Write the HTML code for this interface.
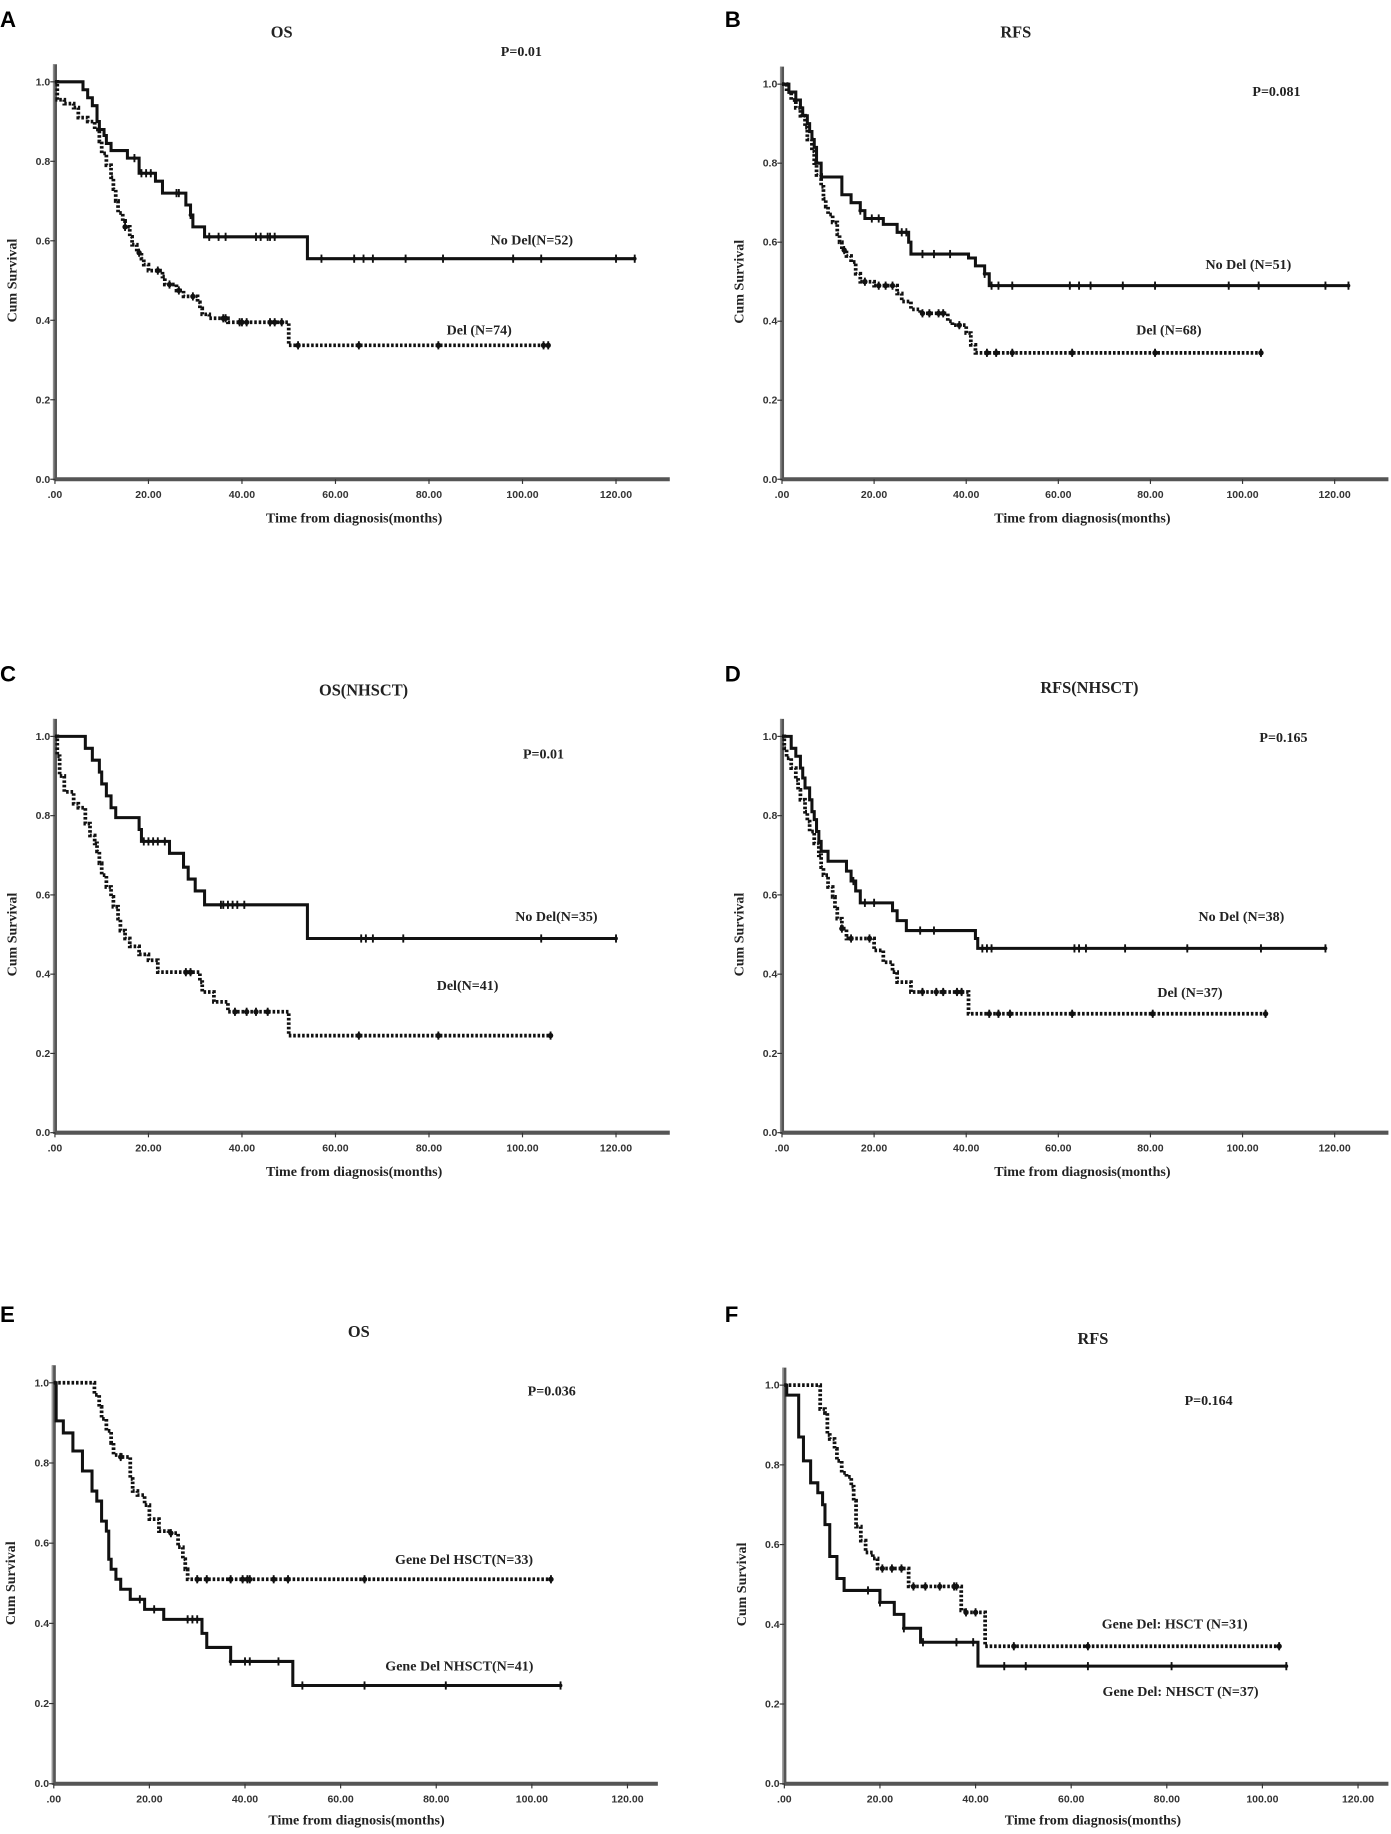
<!DOCTYPE html>
<html><head><meta charset="utf-8">
<style>
html,body{margin:0;padding:0;background:#fff;}
svg{display:block;}
.tick{font:bold 9px "Liberation Sans",sans-serif;fill:#333;}
.lab{font:bold 12px "Liberation Serif",serif;fill:#222;}
.ttl{font:bold 14px "Liberation Serif",serif;fill:#222;}
.let{font:bold 19px "Liberation Sans",sans-serif;fill:#000;}
</style></head>
<body>
<svg id="fig" width="1391" height="1834" viewBox="0 0 1190 1569" xmlns="http://www.w3.org/2000/svg"></svg>
<script>
// ---- data (time in months, cumulative survival) ----
const xTicks = [0,20,40,60,80,100,120];
const xTickLabels = [".00","20.00","40.00","60.00","80.00","100.00","120.00"];
const yTicks = [0,0.2,0.4,0.6,0.8,1.0];
const yTickLabels = ["0.0","0.2","0.4","0.6","0.8","1.0"];

// Panel A (OS)
const aNoDelT = [0,6,7,8,9,9.5,10.5,11,12,15.5,17,18,21.5,23,28,29,29.5,32,54];
const aNoDelS = [1,0.98,0.96,0.94,0.9,0.88,0.865,0.845,0.827,0.808,0.808,0.77,0.75,0.72,0.69,0.665,0.635,0.61,0.555];
const aNoDelCens = [17,18.5,19.5,20.5,26,26.5,29,33,35,36.5,43,44,45.5,46,47,57,64,66,68,75,83,98,104,120,124];
const aNoDelEnd = 124;
const aDelT = [0,0.5,2,4,5,7,8.5,9.5,10,11,12,12.5,13,13.5,14.5,15,16,16.5,17.5,18.5,19,20,23,23.5,26,27.5,30.5,31,31.5,33,37,50];
const aDelS = [1,0.955,0.945,0.935,0.91,0.9,0.88,0.85,0.82,0.79,0.76,0.73,0.7,0.67,0.65,0.635,0.61,0.59,0.57,0.555,0.54,0.525,0.51,0.49,0.475,0.46,0.445,0.43,0.415,0.405,0.395,0.337];
const aDelCens = [15,18,22,24.5,26.5,29.5,36,36.5,39.5,40,41,46,47,48.5,52,65,82,104.5,105.5];
const aDelEnd = 106;

// Panel B (RFS)
const bNoDelT = [0,1.5,3,4,4.5,5.5,6,6.5,7,7.5,8.5,13,15,17,18,22,25,27.5,28,40.5,42,44,45];
const bNoDelS = [1,0.98,0.96,0.94,0.92,0.9,0.88,0.86,0.84,0.8,0.765,0.72,0.7,0.68,0.66,0.645,0.625,0.6,0.57,0.56,0.54,0.52,0.49];
const bNoDelCens = [17,19.5,21,26,27,30.5,33,36.5,44,45.5,47,50,62.5,64.5,67,74,81,97,103.5,118,123];
const bNoDelEnd = 123;
const bDelT = [0,1,2,3,4,5,5.5,6.5,7,7.5,8.5,9,9.5,10,11,12,12.5,13,14,15,16,17,20,25,26,28,30,36,37,40,41,42];
const bDelS = [1,0.98,0.96,0.94,0.92,0.89,0.86,0.83,0.8,0.77,0.74,0.71,0.69,0.67,0.65,0.62,0.6,0.58,0.565,0.55,0.52,0.5,0.49,0.47,0.45,0.43,0.42,0.4,0.39,0.37,0.34,0.32];
const bDelCens = [13.5,18,21,22.5,24,30.5,32,34,35,38.5,44.5,46.5,50,63,81,104];
const bDelEnd = 104;

// Panel C (OS NHSCT)
const cNoDelT = [0,6.5,8,9.5,10,11,12,13,18,18.5,24.5,27.5,28.5,30,32,54];
const cNoDelS = [1,0.97,0.94,0.91,0.88,0.85,0.82,0.795,0.765,0.735,0.705,0.67,0.64,0.61,0.575,0.49];
const cNoDelCens = [19,20,21,22,23.5,35.5,36,37,38,39,40.5,65.5,66.5,68,74.5,104,120];
const cNoDelEnd = 120;
const cDelT = [0,0.5,1,2,4,5,6.5,7.5,8.5,9,9.5,10,11,12,12.5,13.5,14,15,16,18,20,22,31,31.5,34,37,50];
const cDelS = [1,0.95,0.9,0.86,0.83,0.82,0.78,0.75,0.73,0.71,0.68,0.65,0.62,0.595,0.57,0.54,0.51,0.49,0.47,0.45,0.435,0.405,0.38,0.355,0.33,0.305,0.245];
const cDelCens = [28,29,38.5,41,43,45.5,65,82,106];
const cDelEnd = 106;

// Panel D (RFS NHSCT)
const dNoDelT = [0,2,3,4,4.5,5,6,6.5,7,7.5,8,8.5,10,14,15,16,17,24,25,27,42,42.5];
const dNoDelS = [1,0.97,0.95,0.92,0.895,0.87,0.84,0.81,0.79,0.76,0.735,0.71,0.685,0.66,0.635,0.61,0.58,0.56,0.535,0.51,0.49,0.465];
const dNoDelCens = [15.5,18,20,30,33,43.5,44.5,45.5,63.5,64.5,66,74.5,88,104,118];
const dNoDelEnd = 118;
const dDelT = [0,0.5,1,2,3,3.5,4,5,5.5,6,7,8,8.5,9,10,11,11.5,12,13,14,20,22,24,25,28,40.5];
const dDelS = [1,0.97,0.945,0.92,0.89,0.865,0.84,0.81,0.785,0.76,0.73,0.7,0.67,0.65,0.62,0.595,0.565,0.54,0.515,0.49,0.46,0.43,0.405,0.38,0.355,0.3];
const dDelCens = [13,15,19,30.5,33.5,35,38,39,45,47,49.5,63,80.5,105];
const dDelEnd = 105;

// Panel E (OS, HSCT vs NHSCT)
const eHsctT = [0,8.5,9.5,10,11,12,12.5,14,16,16.5,17.5,19,20,22,24,26,27,27.5,28];
const eHsctS = [1,0.97,0.94,0.91,0.88,0.85,0.82,0.815,0.76,0.73,0.72,0.695,0.66,0.63,0.625,0.59,0.56,0.535,0.51];
const eHsctCens = [14,24.5,30,32,37,39.5,40.5,41,46,49,65,104];
const eHsctEnd = 104;
const eNhsctT = [0,0.5,2,4,6,8,9,10,11,11.5,12,13,14,16,19,23,31,32,37,50];
const eNhsctS = [1,0.905,0.875,0.83,0.78,0.73,0.705,0.655,0.63,0.56,0.535,0.51,0.485,0.46,0.435,0.41,0.375,0.34,0.305,0.245];
const eNhsctCens = [18,21,28,29,30,37,40,41,47,52,65,82,106];
const eNhsctEnd = 106;

// Panel F (RFS, HSCT vs NHSCT)
const fHsctT = [0,7.5,8.5,9,9.5,10.5,11,12,13,14,14.5,15,16,17,18.5,19.5,26,37,38,42];
const fHsctS = [1,0.94,0.93,0.875,0.865,0.84,0.81,0.78,0.77,0.745,0.71,0.645,0.61,0.58,0.565,0.54,0.495,0.435,0.43,0.345];
const fHsctCens = [20.5,22.5,24.5,27,29.5,32.5,35.5,36,38,40,48,63.5,103.5];
const fHsctEnd = 103.5;
const fNhsctT = [0,0.5,3,4,5.5,7,8,8.5,9.5,11,12.5,20,23,25,28.5,40.5];
const fNhsctS = [1,0.975,0.87,0.81,0.755,0.73,0.7,0.65,0.57,0.515,0.485,0.455,0.425,0.39,0.355,0.295];
const fNhsctCens = [17.5,20,25,29,36,39.5,46,50.5,63.5,81,105];
const fNhsctEnd = 105;

const NS = "http://www.w3.org/2000/svg";
const fig = document.getElementById('fig');
function mk(tag, attrs, parent){
  const e = document.createElementNS(NS, tag);
  for (const k in attrs) e.setAttribute(k, attrs[k]);
  (parent||fig).appendChild(e);
  return e;
}
function txt(s, x, y, cls, parent, anchor){
  const t = mk('text', {x:x, y:y, class:cls, 'text-anchor':anchor||'middle'}, parent);
  t.textContent = s;
  return t;
}
function survAt(T, S, t){
  let s = S[0];
  for (let i=0;i<T.length;i++){ if (T[i] <= t) s = S[i]; }
  return s;
}

function drawPanel(p){
  const g = mk('g', {});
  
  
  const xs = t => p.ox + t*p.k;
  const ys = s => p.y0 - s*(p.y0 - p.y1);
  const L = txt(p.letter, p.lx, p.ly, 'let', g, 'start');
  
  
  const T = txt(p.title, p.tx, p.ty, 'ttl', g);
  
  
  const ax = mk('g', {}, g);
  
  
  mk('line', {x1:p.ox, y1:p.y1-15, x2:p.ox, y2:p.y0+1, stroke:'#555', 'stroke-width':3.5}, ax);
  mk('line', {x1:p.ox, y1:p.y0, x2:xs(120)+p.ext, y2:p.y0, stroke:'#555', 'stroke-width':3.5}, ax);
  mk('line', {x1:p.ox-1, y1:p.y1-15, x2:p.ox-1, y2:p.y0, stroke:'#999', 'stroke-width':1}, ax);
  for (let i=0;i<yTicks.length;i++){
    const y = ys(yTicks[i]);
    mk('line', {x1:p.ox-4, y1:y, x2:p.ox, y2:y, stroke:'#333', 'stroke-width':1}, ax);
    const tl = txt(yTickLabels[i], p.ox-4, y+3, 'tick', ax, 'end');
    
    
  }
  for (let i=0;i<xTicks.length;i++){
    const x = xs(xTicks[i]);
    mk('line', {x1:x, y1:p.y0, x2:x, y2:p.y0+4, stroke:'#333', 'stroke-width':1}, ax);
    const tl = txt(xTickLabels[i], x, p.y0+16, 'tick', ax);
    
    
  }
  const xl = txt('Time from diagnosis(months)', p.xlx, p.y0+p.xly, 'lab', g);
  
  
  const yl = txt('Cum Survival', 0, 0, 'lab', g);
  yl.setAttribute('transform', 'translate('+(p.ox-33)+','+((p.y0+p.y1)/2)+') rotate(-90)');
  
  
  const pv = txt(p.pval, p.px, p.py, 'lab', g);
  
  
  p.series.forEach(sr => {
    let d = 'M'+xs(sr.T[0])+','+ys(sr.S[0]);
    for (let i=1;i<sr.T.length;i++){
      d += ' H'+xs(sr.T[i])+' V'+ys(sr.S[i]);
    }
    d += ' H'+xs(sr.end);
    const path = mk('path', {d:d, fill:'none', stroke:'#111', 'stroke-width': sr.dotted?3.2:2.6,
      'stroke-dasharray': sr.dotted?'2.2 1.6':'none'}, g);
    
    
    sr.cens.forEach(c => {
      const cx = xs(c), cy = ys(survAt(sr.T, sr.S, c));
      const m = mk('g', {}, g);
      
      
      mk('line', {x1:cx, y1:cy-3.5, x2:cx, y2:cy+3.5, stroke:'#111', 'stroke-width':1.6}, m);
      mk('circle', {cx:cx, cy:cy, r: sr.dotted?2.3:1.6, fill:'#111'}, m);
    });
    const lb = txt(sr.label, sr.lx, sr.ly, 'lab', g);
    
    
  });
}

const panels = [
 {name:'panel-a', letter:'A', lx:0, ly:23, title:'OS', tx:241, ty:32, ox:47, k:4.0, y0:410, y1:70, ext:46, xlx:303, xly:37, pval:'P=0.01', px:446, py:48,
  series:[
   {name:'no-del', T:aNoDelT, S:aNoDelS, cens:aNoDelCens, end:aNoDelEnd, dotted:false, label:'No Del(N=52)', lx:455, ly:209},
   {name:'del', T:aDelT, S:aDelS, cens:aDelCens, end:aDelEnd, dotted:true, label:'Del (N=74)', lx:410, ly:286}]},
 {name:'panel-b', letter:'B', lx:620, ly:23, title:'RFS', tx:869, ty:32, ox:669, k:3.94, y0:410, y1:72, ext:46, xlx:926, xly:37, pval:'P=0.081', px:1092, py:82,
  series:[
   {name:'no-del', T:bNoDelT, S:bNoDelS, cens:bNoDelCens, end:bNoDelEnd, dotted:false, label:'No Del (N=51)', lx:1068, ly:230},
   {name:'del', T:bDelT, S:bDelS, cens:bDelCens, end:bDelEnd, dotted:true, label:'Del (N=68)', lx:1000, ly:286}]},
 {name:'panel-c', letter:'C', lx:0, ly:583, title:'OS(NHSCT)', tx:311, ty:595, ox:47, k:4.0, y0:969, y1:630, ext:46, xlx:303, xly:37, pval:'P=0.01', px:465, py:649,
  series:[
   {name:'no-del', T:cNoDelT, S:cNoDelS, cens:cNoDelCens, end:cNoDelEnd, dotted:false, label:'No Del(N=35)', lx:476, ly:788},
   {name:'del', T:cDelT, S:cDelS, cens:cDelCens, end:cDelEnd, dotted:true, label:'Del(N=41)', lx:400, ly:847}]},
 {name:'panel-d', letter:'D', lx:620, ly:583, title:'RFS(NHSCT)', tx:932, ty:593, ox:669, k:3.94, y0:969, y1:630, ext:46, xlx:926, xly:37, pval:'P=0.165', px:1098, py:635,
  series:[
   {name:'no-del', T:dNoDelT, S:dNoDelS, cens:dNoDelCens, end:dNoDelEnd, dotted:false, label:'No Del (N=38)', lx:1062, ly:788},
   {name:'del', T:dDelT, S:dDelS, cens:dDelCens, end:dDelEnd, dotted:true, label:'Del (N=37)', lx:1018, ly:853}]},
 {name:'panel-e', letter:'E', lx:0, ly:1131, title:'OS', tx:307, ty:1144, ox:46, k:4.09, y0:1526, y1:1183, ext:26, xlx:305, xly:35, pval:'P=0.036', px:472, py:1194,
  series:[
   {name:'gene-del-hsct', T:eHsctT, S:eHsctS, cens:eHsctCens, end:eHsctEnd, dotted:true, label:'Gene Del HSCT(N=33)', lx:397, ly:1338},
   {name:'gene-del-nhsct', T:eNhsctT, S:eNhsctS, cens:eNhsctCens, end:eNhsctEnd, dotted:false, label:'Gene Del NHSCT(N=41)', lx:393, ly:1429}]},
 {name:'panel-f', letter:'F', lx:620, ly:1131, title:'RFS', tx:935, ty:1150, ox:671, k:4.09, y0:1526, y1:1185, ext:26, xlx:935, xly:35, pval:'P=0.164', px:1034, py:1202,
  series:[
   {name:'gene-del-hsct', T:fHsctT, S:fHsctS, cens:fHsctCens, end:fHsctEnd, dotted:true, label:'Gene Del: HSCT (N=31)', lx:1005, ly:1393},
   {name:'gene-del-nhsct', T:fNhsctT, S:fNhsctS, cens:fNhsctCens, end:fNhsctEnd, dotted:false, label:'Gene Del: NHSCT (N=37)', lx:1010, ly:1451}]}
];
panels.forEach(drawPanel);
</script>
</body></html>
